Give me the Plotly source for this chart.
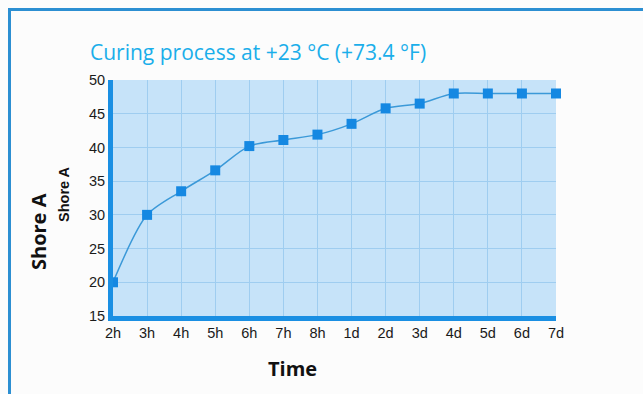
import plotly.graph_objects as go

categories = ["2h", "3h", "4h", "5h", "6h", "7h", "8h", "1d", "2d", "3d", "4d", "5d", "6d", "7d"]
shore_a = [20, 30, 33.5, 36.6, 40.2, 41.1, 41.9, 43.5, 45.8, 46.5, 48, 48, 48, 48]
y_ticks = [15, 20, 25, 30, 35, 40, 45, 50]

W, H = 643, 394
L, R, T, B = 113, 87, 80, 78
pw, ph = W - L - R, H - T - B

def px(x):
    return (x - L) / pw

def py(y):
    return 1 - (y - T) / ph

fig = go.Figure()
fig.add_trace(go.Scatter(
    x=categories, y=shore_a, mode="lines+markers",
    line=dict(color="#3b99d8", width=1.5, shape="spline", smoothing=0.8),
    marker=dict(symbol="square", size=10, color="#1588e2"),
    cliponaxis=False, showlegend=False,
))

fig.update_layout(
    width=W, height=H,
    margin=dict(l=L, r=R, t=T, b=B),
    paper_bgcolor="#fcfcfc",
    plot_bgcolor="#c6e3f9",
    font=dict(family="Liberation Sans, Arial", size=14.5, color="#1a1a1a"),
    xaxis=dict(
        type="category", range=[0, 13], showgrid=True, gridcolor="#9fcdf0", gridwidth=1,
        showline=True, linecolor="#1a8fe3", linewidth=5, ticks="", zeroline=False,
        tickfont=dict(size=14.5, color="#1a1a1a"),
    ),
    yaxis=dict(
        range=[15, 50], tickvals=y_ticks, showgrid=True, gridcolor="#9fcdf0", gridwidth=1,
        showline=True, linecolor="#1a8fe3", linewidth=5, ticks="", zeroline=False,
        tickfont=dict(size=14.5, color="#1a1a1a"),
    ),
    shapes=[
        dict(type="line", xref="paper", yref="paper", x0=px(9.5), x1=px(9.5), y0=py(8), y1=py(H + 5),
             line=dict(color="#2c8fd2", width=3)),
        dict(type="line", xref="paper", yref="paper", x0=px(8), x1=px(W + 5), y0=py(9.5), y1=py(9.5),
             line=dict(color="#2c8fd2", width=3)),
    ],
    annotations=[
        dict(text="Curing process at +23 °C (+73.4 °F)", xref="paper", yref="paper",
             x=px(88), y=py(52), xanchor="left", yanchor="middle", showarrow=False,
             font=dict(family="Open Sans", size=21, color="#1aaeea")),
        dict(text="<b>Shore A</b>", xref="paper", yref="paper", textangle=-90,
             x=px(38), y=py(232), xanchor="center", yanchor="middle", showarrow=False,
             font=dict(family="Open Sans", size=20, color="#111")),
        dict(text="<b>Shore A</b>", xref="paper", yref="paper", textangle=-90,
             x=px(64), y=py(194), xanchor="center", yanchor="middle", showarrow=False,
             font=dict(family="Liberation Sans", size=14.5, color="#111")),
        dict(text="<b>Time</b>", xref="paper", yref="paper",
             x=px(292), y=py(368), xanchor="center", yanchor="middle", showarrow=False,
             font=dict(family="Open Sans", size=20, color="#111")),
    ],
)

fig.write_html("out.html", config={"displayModeBar": False},
               post_script="document.body.style.margin='0';document.body.style.overflow='hidden';")
